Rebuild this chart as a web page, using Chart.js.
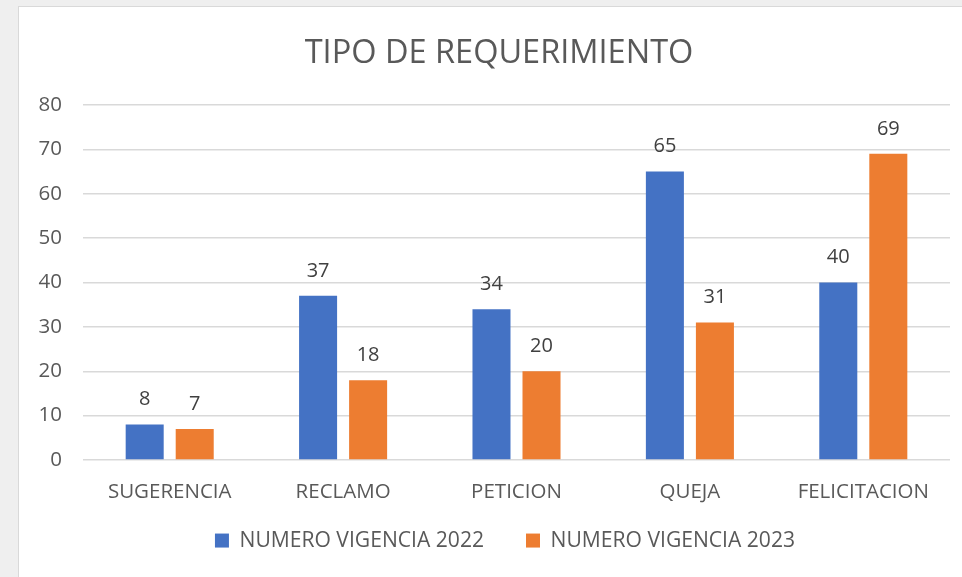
<!DOCTYPE html>
<html>
<head>
<meta charset="utf-8">
<script src="https://cdn.jsdelivr.net/npm/chart.js@4"></script>
<style>
  html, body { margin: 0; padding: 0; background: #efefef; }
  body { width: 962px; height: 577px; overflow: hidden; position: relative; }
  #panel {
    position: absolute; left: 18px; top: 6px; width: 960px; height: 571px;
    background: #fff; border-left: 1px solid #d9d9d9; border-top: 1px solid #d9d9d9;
    box-sizing: border-box;
  }
  #chartWrap { position: absolute; left: 1px; top: 1px; width: 958px; height: 570px; }
</style>
</head>
<body>
<div id="panel"><div id="chartWrap"><canvas id="myChart"></canvas></div></div>
<script>
const categories = ['SUGERENCIA', 'RECLAMO', 'PETICION', 'QUEJA', 'FELICITACION'];
const seriesNames = ['NUMERO VIGENCIA 2022', 'NUMERO VIGENCIA 2023'];
const values2022 = [8, 37, 34, 65, 40];
const values2023 = [7, 18, 20, 31, 69];
const yTicks = [0, 10, 20, 30, 40, 50, 60, 70, 80];

const FONT = "'Open Sans', sans-serif";

// prints each bar's value just above it
const valueLabels = {
    id: 'valueLabels',
    afterDatasetsDraw(chart) {
        const ctx = chart.ctx;
        ctx.save();
        ctx.font = '20px ' + FONT;
        ctx.fillStyle = '#404040';
        ctx.textAlign = 'center';
        ctx.textBaseline = 'middle';
        chart.data.datasets.forEach((ds, i) => {
            chart.getDatasetMeta(i).data.forEach((bar, j) => {
                ctx.fillText(ds.data[j], bar.x, bar.y - 25);
            });
        });
        ctx.restore();
    }
};

// nudge title and legend: centred a bit right of the box area, legend pulled up under the ticks
const boxNudge = {
    id: 'boxNudge',
    afterLayout(chart) {
        const t = chart.titleBlock;
        if (t) { t.left += 14; t.right += 14; }
        const lg = chart.legend;
        if (lg) {
            lg.left += 20; lg.right += 20;
            lg.top = 480; lg.bottom = chart.height;
            lg.height = lg.bottom - lg.top;
        }
    }
};

const ctx = document.getElementById('myChart');
const chartReq = new Chart(ctx, {
    type: 'bar',
    data: {
        labels: categories,
        datasets: [{
            label: seriesNames[0],
            data: values2022,
            backgroundColor: '#4472C4',
        }, {
            label: seriesNames[1],
            data: values2023,
            backgroundColor: '#ED7D31',
        }]
    },
    options: {
        responsive: true,
        maintainAspectRatio: false,
        animation: false,
        categoryPercentage: 0.577,
        barPercentage: 0.76,
        layout: { padding: { left: 0, right: 28, top: 0, bottom: 12 } },
        scales: {
            x: {
                grid: { display: false, drawTicks: false },
                border: { display: false },
                ticks: { color: '#595959', font: { family: FONT, size: 20.5 }, padding: 20 },
                afterFit(scale) { scale.height = 46; }
            },
            y: {
                min: 0,
                max: 80,
                afterBuildTicks(scale) {
                    scale.ticks = yTicks.map(v => ({ value: v }));
                },
                afterFit(scale) { scale.width = 63; },
                grid: { color: '#d9d9d9', lineWidth: 1.5, drawTicks: false },
                border: { display: false },
                ticks: { color: '#595959', font: { family: FONT, size: 20.5 }, padding: 21 }
            }
        },
        plugins: {
            title: {
                display: true,
                text: 'TIPO DE REQUERIMIENTO',
                color: '#595959',
                font: { family: FONT, size: 32.5, weight: 'normal' },
                padding: { top: 26, bottom: 32 }
            },
            legend: {
                position: 'bottom',
                maxHeight: 60,
                labels: {
                    color: '#595959',
                    font: { family: FONT, size: 21.1 },
                    boxWidth: 14,
                    boxHeight: 14,
                    padding: 42
                }
            },
            tooltip: { enabled: false }
        }
    },
    plugins: [valueLabels, boxNudge]
});
</script>
</body>
</html>
